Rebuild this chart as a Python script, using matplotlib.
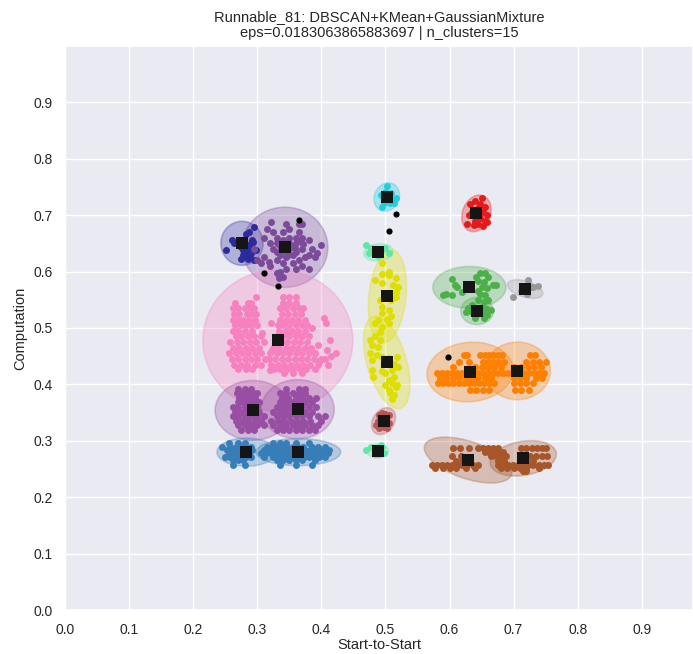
import matplotlib
matplotlib.use("Agg")
import matplotlib.pyplot as plt
from matplotlib.patches import Ellipse
import seaborn as sns

sns.set_theme(style="darkgrid")
plt.rcParams["font.family"] = ["Liberation Sans", "DejaVu Sans"]

TITLE = "Runnable_81: DBSCAN+KMean+GaussianMixture\neps=0.0183063865883697 | n_clusters=15"
X_LABEL = "Start-to-Start"
Y_LABEL = "Computation"
TICKS = [0.0, 0.1, 0.2, 0.3, 0.4, 0.5, 0.6, 0.7, 0.8, 0.9]

# ---- cluster colours -------------------------------------------------------
C_NAVY = "#2b2b9e"
C_PLUM = "#7b4b9a"
C_PINK = "#f781bf"
C_PURPLE = "#984ea3"
C_BLUE = "#377eb8"
C_CYAN = "#1ecfdf"
C_MINT = "#62e6a4"
C_YELLOW = "#dede00"
C_ROSE = "#bc5454"
C_RED = "#e41a1c"
C_GREEN = "#4daf4a"
C_GREY = "#999999"
C_ORANGE = "#ff7f00"
C_BROWN = "#a65628"

# ---- points: scattered clusters as (x, y) pairs ------------------------------
navy_pts = [(0.251, 0.638), (0.261, 0.656), (0.264, 0.651), (0.269, 0.650), (0.274, 0.644),
            (0.277, 0.638), (0.279, 0.632), (0.282, 0.626), (0.285, 0.635), (0.287, 0.644),
            (0.290, 0.650), (0.292, 0.656), (0.295, 0.679), (0.287, 0.670), (0.282, 0.667),
            (0.279, 0.641), (0.285, 0.623), (0.295, 0.620), (0.288, 0.629), (0.290, 0.632),
            (0.298, 0.638), (0.294, 0.653), (0.283, 0.647), (0.277, 0.629), (0.274, 0.623)]

plum_pts = [(0.330, 0.650), (0.335, 0.645), (0.340, 0.640), (0.345, 0.635), (0.350, 0.640),
            (0.355, 0.645), (0.360, 0.650), (0.365, 0.655), (0.355, 0.630), (0.345, 0.625),
            (0.335, 0.630), (0.325, 0.640), (0.320, 0.650), (0.330, 0.660), (0.340, 0.670),
            (0.350, 0.660), (0.360, 0.635), (0.370, 0.640), (0.375, 0.625), (0.365, 0.620),
            (0.340, 0.615), (0.330, 0.620), (0.350, 0.675), (0.345, 0.685), (0.365, 0.670),
            (0.370, 0.660), (0.380, 0.655), (0.385, 0.640), (0.390, 0.625), (0.380, 0.630),
            (0.310, 0.660), (0.315, 0.675), (0.310, 0.625), (0.320, 0.610), (0.335, 0.600),
            (0.340, 0.590), (0.345, 0.605), (0.360, 0.605), (0.370, 0.610), (0.325, 0.670),
            (0.355, 0.615), (0.330, 0.635), (0.340, 0.655), (0.360, 0.660), (0.300, 0.620),
            (0.295, 0.640), (0.380, 0.605), (0.365, 0.685), (0.321, 0.688), (0.369, 0.684),
            (0.399, 0.647), (0.393, 0.632), (0.305, 0.615), (0.318, 0.617), (0.331, 0.597),
            (0.334, 0.588), (0.350, 0.650), (0.358, 0.642), (0.372, 0.648), (0.348, 0.630)]

cyan_pts = [(0.503, 0.751), (0.493, 0.735), (0.497, 0.721), (0.495, 0.715), (0.516, 0.730),
            (0.513, 0.721), (0.507, 0.721), (0.500, 0.741), (0.509, 0.739), (0.497, 0.730)]

mint_pts = [(0.469, 0.647), (0.477, 0.641), (0.483, 0.638), (0.505, 0.632), (0.500, 0.641),
            (0.474, 0.632), (0.488, 0.627), (0.493, 0.636),
            (0.469, 0.283), (0.477, 0.289), (0.483, 0.277), (0.495, 0.289), (0.497, 0.279),
            (0.490, 0.276), (0.493, 0.292)]

yellow_pts = [(0.495, 0.615), (0.505, 0.600), (0.494, 0.596), (0.505, 0.593), (0.516, 0.588),
              (0.484, 0.585), (0.494, 0.579), (0.511, 0.576), (0.520, 0.573), (0.516, 0.564),
              (0.505, 0.561), (0.497, 0.558), (0.492, 0.549), (0.508, 0.549), (0.516, 0.555),
              (0.494, 0.537), (0.505, 0.532), (0.494, 0.526), (0.508, 0.522), (0.502, 0.516),
              (0.505, 0.508), (0.489, 0.514), (0.484, 0.508), (0.494, 0.502),
              (0.492, 0.493), (0.484, 0.485), (0.492, 0.479), (0.479, 0.470), (0.489, 0.467),
              (0.476, 0.455), (0.486, 0.452), (0.494, 0.449), (0.479, 0.443), (0.505, 0.446),
              (0.518, 0.449), (0.520, 0.431), (0.513, 0.437), (0.510, 0.426), (0.500, 0.420),
              (0.513, 0.414), (0.494, 0.423), (0.505, 0.408), (0.510, 0.402), (0.500, 0.399),
              (0.516, 0.396), (0.505, 0.390), (0.518, 0.399), (0.507, 0.384), (0.513, 0.381),
              (0.510, 0.375), (0.481, 0.414), (0.479, 0.426), (0.476, 0.479)]

rose_pts = [(0.490, 0.345), (0.495, 0.350), (0.500, 0.348), (0.505, 0.345), (0.488, 0.335),
            (0.493, 0.330), (0.500, 0.335), (0.506, 0.332), (0.490, 0.322), (0.497, 0.325),
            (0.503, 0.322), (0.485, 0.328)]

red_pts = [(0.632, 0.720), (0.640, 0.725), (0.648, 0.720), (0.655, 0.715), (0.645, 0.712),
           (0.652, 0.705), (0.658, 0.700), (0.648, 0.695), (0.655, 0.690), (0.645, 0.685),
           (0.652, 0.680), (0.640, 0.690), (0.630, 0.700), (0.628, 0.685), (0.635, 0.705),
           (0.642, 0.700), (0.650, 0.730), (0.638, 0.682), (0.658, 0.688)]

green_pts = [(0.604, 0.586), (0.609, 0.576), (0.611, 0.573), (0.590, 0.558), (0.595, 0.561),
             (0.604, 0.558), (0.619, 0.564), (0.648, 0.597), (0.656, 0.598), (0.645, 0.584),
             (0.653, 0.581), (0.651, 0.573), (0.658, 0.570), (0.648, 0.561), (0.656, 0.558),
             (0.645, 0.549), (0.653, 0.546), (0.651, 0.537), (0.658, 0.534), (0.629, 0.535),
             (0.635, 0.529), (0.642, 0.523), (0.651, 0.526), (0.658, 0.523), (0.626, 0.529),
             (0.639, 0.517), (0.654, 0.517), (0.664, 0.532), (0.635, 0.541), (0.668, 0.576),
             (0.673, 0.576), (0.642, 0.590), (0.660, 0.590), (0.645, 0.565), (0.660, 0.550)]

grey_pts = [(0.699, 0.555), (0.712, 0.565), (0.716, 0.573), (0.721, 0.561), (0.723, 0.585),
            (0.727, 0.573), (0.731, 0.573), (0.738, 0.574), (0.720, 0.567)]

noise_pts = [(0.365, 0.691), (0.310, 0.597), (0.333, 0.574), (0.516, 0.702),
             (0.505, 0.672), (0.598, 0.448)]

# ---- points: banded clusters as rows of y -> x values ----------------------
pink_rows = [
    (0.545, [0.265, 0.285, 0.290, 0.340, 0.350, 0.360]),
    (0.535, [0.262, 0.270, 0.280, 0.288, 0.295, 0.336, 0.345, 0.355, 0.365, 0.372]),
    (0.525, [0.264, 0.272, 0.284, 0.292, 0.298, 0.338, 0.348, 0.358, 0.368]),
    (0.515, [0.262, 0.270, 0.278, 0.287, 0.296, 0.335, 0.344, 0.354, 0.364, 0.374]),
    (0.505, [0.265, 0.274, 0.282, 0.290, 0.300, 0.332, 0.340, 0.350, 0.360, 0.370, 0.378]),
    (0.495, [0.262, 0.270, 0.280, 0.292, 0.334, 0.344, 0.354, 0.364, 0.374]),
    (0.485, [0.266, 0.275, 0.285, 0.295, 0.305, 0.330, 0.340, 0.350, 0.360, 0.370, 0.380]),
    (0.475, [0.258, 0.268, 0.278, 0.288, 0.298, 0.310, 0.328, 0.337, 0.347, 0.357, 0.367, 0.377]),
    (0.465, [0.262, 0.272, 0.282, 0.292, 0.302, 0.324, 0.334, 0.344, 0.354, 0.364, 0.374, 0.384]),
    (0.455, [0.256, 0.266, 0.276, 0.286, 0.296, 0.306, 0.320, 0.330, 0.340, 0.350, 0.360,
             0.370, 0.380, 0.390]),
    (0.445, [0.260, 0.270, 0.280, 0.290, 0.300, 0.312, 0.318, 0.328, 0.338, 0.348, 0.358,
             0.368, 0.378, 0.388, 0.400]),
    (0.435, [0.264, 0.274, 0.284, 0.296, 0.306, 0.322, 0.332, 0.342, 0.352, 0.362, 0.372,
             0.382, 0.395, 0.410]),
    (0.427, [0.270, 0.282, 0.292, 0.326, 0.336, 0.346, 0.356, 0.366, 0.376, 0.390]),
    (0.555, [0.340, 0.350, 0.360, 0.298]),
]
pink_extra = [(0.404, 0.517), (0.407, 0.508), (0.414, 0.478), (0.422, 0.455), (0.409, 0.461),
              (0.394, 0.470), (0.386, 0.500), (0.396, 0.439), (0.308, 0.491), (0.321, 0.508),
              (0.323, 0.461), (0.320, 0.425), (0.405, 0.445), (0.415, 0.450), (0.342, 0.420),
              (0.355, 0.420), (0.370, 0.420)]

purple_rows = [
    (0.392, [0.270, 0.280, 0.290, 0.345, 0.365, 0.375]),
    (0.384, [0.268, 0.276, 0.285, 0.293, 0.300, 0.335, 0.345, 0.355, 0.365, 0.375]),
    (0.376, [0.272, 0.280, 0.288, 0.296, 0.338, 0.348, 0.360, 0.370, 0.380, 0.392]),
    (0.368, [0.270, 0.278, 0.287, 0.295, 0.303, 0.335, 0.345, 0.355, 0.365, 0.375, 0.385]),
    (0.360, [0.262, 0.270, 0.280, 0.290, 0.300, 0.330, 0.340, 0.350, 0.360, 0.370, 0.380,
             0.392]),
    (0.352, [0.265, 0.274, 0.283, 0.292, 0.302, 0.325, 0.335, 0.345, 0.355, 0.365, 0.375,
             0.385]),
    (0.344, [0.262, 0.270, 0.280, 0.290, 0.300, 0.310, 0.330, 0.340, 0.350, 0.360, 0.370,
             0.380, 0.395, 0.405]),
    (0.336, [0.266, 0.276, 0.286, 0.296, 0.305, 0.322, 0.332, 0.342, 0.352, 0.362, 0.372,
             0.382, 0.400]),
    (0.328, [0.270, 0.280, 0.290, 0.300, 0.310, 0.325, 0.335, 0.345, 0.355, 0.365, 0.375,
             0.385, 0.395]),
    (0.320, [0.275, 0.285, 0.295, 0.330, 0.340, 0.350, 0.360, 0.370, 0.380, 0.390]),
]

blue_rows = [
    (0.296, [0.255, 0.270, 0.280, 0.325, 0.335, 0.345, 0.360, 0.380]),
    (0.290, [0.245, 0.258, 0.266, 0.274, 0.282, 0.290, 0.315, 0.323, 0.331, 0.339, 0.347,
             0.355, 0.363, 0.371, 0.385, 0.395, 0.405]),
    (0.284, [0.252, 0.260, 0.268, 0.276, 0.284, 0.292, 0.310, 0.318, 0.326, 0.334, 0.342,
             0.350, 0.358, 0.366, 0.374, 0.382, 0.390, 0.398, 0.406, 0.412]),
    (0.278, [0.255, 0.263, 0.271, 0.279, 0.287, 0.305, 0.314, 0.322, 0.330, 0.338, 0.346,
             0.354, 0.362, 0.370, 0.378, 0.386, 0.394, 0.402, 0.410]),
    (0.272, [0.250, 0.258, 0.266, 0.274, 0.282, 0.290, 0.310, 0.325, 0.333, 0.341, 0.349,
             0.357, 0.365, 0.373, 0.381, 0.389, 0.397, 0.405]),
    (0.266, [0.262, 0.270, 0.278, 0.330, 0.340, 0.350, 0.360, 0.370, 0.390]),
    (0.258, [0.262, 0.280, 0.335, 0.360, 0.385]),
]

orange_rows = [
    (0.452, [0.622, 0.628, 0.648, 0.655, 0.662, 0.668, 0.675, 0.682, 0.725, 0.733]),
    (0.440, [0.615, 0.630, 0.652, 0.660, 0.668, 0.676, 0.685, 0.720, 0.730, 0.740, 0.750]),
    (0.430, [0.605, 0.640, 0.650, 0.660, 0.670, 0.680, 0.700, 0.712, 0.722, 0.732, 0.742]),
    (0.420, [0.580, 0.588, 0.596, 0.604, 0.612, 0.620, 0.628, 0.636, 0.644, 0.652, 0.660,
             0.668, 0.676, 0.684, 0.692, 0.700, 0.708, 0.716, 0.724, 0.732, 0.740, 0.748]),
    (0.412, [0.585, 0.595, 0.605, 0.615, 0.625, 0.635, 0.645, 0.655, 0.665, 0.700, 0.710,
             0.720, 0.735, 0.745]),
    (0.402, [0.582, 0.590, 0.598, 0.606, 0.614, 0.622, 0.630, 0.638, 0.646, 0.654, 0.662,
             0.670, 0.700, 0.710, 0.720, 0.730]),
    (0.390, [0.632, 0.642, 0.652, 0.662, 0.702, 0.712, 0.724]),
]

brown_rows = [
    (0.288, [0.605, 0.617, 0.630, 0.645, 0.652, 0.660, 0.668, 0.675, 0.712, 0.720, 0.728,
             0.736, 0.744, 0.750]),
    (0.280, [0.655, 0.662, 0.668, 0.675, 0.683]),
    (0.274, [0.604, 0.618, 0.665, 0.672, 0.680, 0.688, 0.715, 0.725, 0.735, 0.745, 0.752]),
    (0.264, [0.610, 0.620, 0.675, 0.685, 0.720, 0.730]),
    (0.258, [0.572, 0.580, 0.588, 0.596, 0.604, 0.612, 0.620, 0.628, 0.636, 0.644, 0.675,
             0.683, 0.691, 0.699, 0.707, 0.715, 0.723, 0.731, 0.739, 0.747, 0.754]),
    (0.252, [0.578, 0.590, 0.600, 0.610, 0.625, 0.640, 0.680, 0.690, 0.700, 0.710, 0.720,
             0.740]),
    (0.246, [0.715, 0.720]),
]

# ---- mixture components: colour, centre x, centre y, width, height, angle ----
components = [
    (C_NAVY, 0.276, 0.650, 0.066, 0.078, 0),
    (C_PLUM, 0.343, 0.643, 0.134, 0.142, 0),
    (C_PINK, 0.332, 0.478, 0.234, 0.250, 0),
    (C_PURPLE, 0.293, 0.354, 0.118, 0.106, 0),
    (C_PURPLE, 0.363, 0.356, 0.114, 0.105, 0),
    (C_BLUE, 0.283, 0.280, 0.092, 0.050, 0),
    (C_BLUE, 0.364, 0.280, 0.132, 0.048, 0),
    (C_CYAN, 0.502, 0.732, 0.039, 0.051, -15),
    (C_MINT, 0.489, 0.634, 0.046, 0.030, 10),
    (C_MINT, 0.488, 0.282, 0.034, 0.025, 0),
    (C_YELLOW, 0.503, 0.556, 0.058, 0.165, -5),
    (C_YELLOW, 0.502, 0.439, 0.062, 0.168, 14),
    (C_ROSE, 0.497, 0.335, 0.034, 0.050, -25),
    (C_RED, 0.642, 0.703, 0.044, 0.066, -15),
    (C_GREEN, 0.631, 0.572, 0.114, 0.074, 0),
    (C_GREEN, 0.643, 0.530, 0.051, 0.048, 0),
    (C_GREY, 0.718, 0.569, 0.058, 0.028, -20),
    (C_ORANGE, 0.632, 0.422, 0.135, 0.105, 8),
    (C_ORANGE, 0.706, 0.424, 0.103, 0.102, 0),
    (C_BROWN, 0.629, 0.266, 0.145, 0.065, -22),
    (C_BROWN, 0.715, 0.269, 0.105, 0.060, 12),
]


def rows_to_xy(rows):
    xs, ys = [], []
    for y, row in rows:
        xs.extend(row)
        ys.extend([y] * len(row))
    return xs, ys


def pairs_to_xy(pairs):
    return [p[0] for p in pairs], [p[1] for p in pairs]


fig = plt.figure(figsize=(6.93, 6.54), dpi=100)
ax = fig.add_axes([0.094, 0.067, 0.906, 0.863])

for color, cx, cy, w, h, ang in components:
    ax.add_patch(Ellipse((cx, cy), w, h, angle=ang, facecolor=color, edgecolor=color,
                         alpha=0.3, lw=1.2, zorder=1))

scatter_sets = [
    (C_PINK, rows_to_xy(pink_rows)), (C_PINK, pairs_to_xy(pink_extra)),
    (C_PURPLE, rows_to_xy(purple_rows)), (C_BLUE, rows_to_xy(blue_rows)),
    (C_ORANGE, rows_to_xy(orange_rows)), (C_BROWN, rows_to_xy(brown_rows)),
    (C_NAVY, pairs_to_xy(navy_pts)), (C_PLUM, pairs_to_xy(plum_pts)),
    (C_CYAN, pairs_to_xy(cyan_pts)), (C_MINT, pairs_to_xy(mint_pts)),
    (C_YELLOW, pairs_to_xy(yellow_pts)), (C_ROSE, pairs_to_xy(rose_pts)),
    (C_RED, pairs_to_xy(red_pts)), (C_GREEN, pairs_to_xy(green_pts)),
    (C_GREY, pairs_to_xy(grey_pts)),
]
for color, (xs, ys) in scatter_sets:
    ax.scatter(xs, ys, s=25, color=color, linewidths=0, zorder=2)

nx, ny = pairs_to_xy(noise_pts)
ax.scatter(nx, ny, s=20, color="black", linewidths=0, zorder=2)

mx = [c[1] for c in components]
my = [c[2] for c in components]
ax.scatter(mx, my, marker="s", s=72, color="#151515", linewidths=0, zorder=3)

ax.set_xlim(0, 0.98)
ax.set_ylim(0, 1.0)
ax.set_xticks(TICKS)
ax.set_yticks(TICKS)
ax.set_xticklabels([f"{t:.1f}" for t in TICKS])
ax.set_yticklabels([f"{t:.1f}" for t in TICKS])
ax.tick_params(labelsize=10, pad=3)
ax.set_xlabel(X_LABEL, fontsize=10.5, labelpad=1)
ax.set_ylabel(Y_LABEL, fontsize=10.5)
ax.set_title(TITLE, fontsize=10.5)

fig.savefig("out.png", dpi=100)
